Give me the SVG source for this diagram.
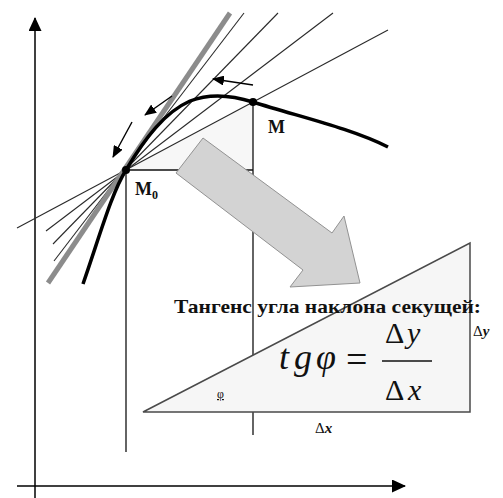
<svg xmlns="http://www.w3.org/2000/svg" width="503" height="498" viewBox="0 0 503 498">
<style>
.ax{stroke:#000;stroke-width:1.5;fill:none}
.sec{stroke:#2a2a2a;stroke-width:1.1;fill:none}
.vl{stroke:#111;stroke-width:1.3;fill:none}
.sm{stroke:#000;stroke-width:1.4;fill:none;marker-end:url(#ah)}
.b{font-weight:bold}
.it{font-style:italic}
</style>
<defs>
<marker id="ah" markerWidth="12" markerHeight="10" refX="11" refY="5" orient="auto" markerUnits="userSpaceOnUse"><path d="M0,0 L12,5 L0,10 Z" fill="#000"/></marker>
<marker id="axh" markerWidth="14" markerHeight="13" refX="13" refY="6.5" orient="auto" markerUnits="userSpaceOnUse"><path d="M0,0 L14,6.5 L0,13 Z" fill="#000"/></marker>
</defs>
<rect width="503" height="498" fill="#fff"/>
<g id="axes">
<line class="ax" x1="35" y1="498" x2="35" y2="18" marker-end="url(#axh)"/>
<line class="ax" x1="17" y1="486" x2="405" y2="486" marker-end="url(#axh)"/>
</g>
<g id="increment-triangle">
<polygon points="126,170 253,102 253,170" fill="#f7f7f7"/>
<line class="vl" x1="126" y1="170" x2="253" y2="170"/>
</g>
<g id="connectors">
<line class="sec" x1="17" y1="228" x2="388" y2="30"/>
<line class="sec" x1="46" y1="231" x2="333" y2="13"/>
<line class="sec" x1="53" y1="244" x2="278" y2="13"/>
<line class="sec" x1="54" y1="261" x2="244" y2="13"/>
<line x1="48" y1="283" x2="230" y2="13" stroke="#8c8c8c" stroke-width="5"/>
<line class="vl" x1="126" y1="170" x2="126" y2="452"/>
<line class="vl" x1="253" y1="102" x2="253" y2="435"/>
<path d="M83,284 C100,235 112,192 126,170 C145,138 165,112 190,101 C205,95 225,93 253,102 C300,117 350,128 388,147" fill="none" stroke="#000" stroke-width="3.5"/>
<line class="sm" x1="253" y1="85" x2="213" y2="79"/>
<line class="sm" x1="172" y1="96" x2="145" y2="115"/>
<line class="sm" x1="132" y1="122" x2="113" y2="157"/>
</g>
<g fill="#111" font-family="Liberation Serif, Times New Roman, serif">
<g id="M0">
<circle cx="126" cy="170" r="4" fill="#000"/>
<text class="b" x="135" y="195" font-size="18">M<tspan font-size="12" dy="4">0</tspan></text>
</g>
<g id="M">
<circle cx="253" cy="102" r="4" fill="#000"/>
<text class="b" x="268" y="133" font-size="18">M</text>
</g>
<g id="big-arrow">
<polygon points="203,138 176,173 303,270 290,287 360,283 344,216 332,233" fill="#d3d3d3" stroke="#929292" stroke-width="1"/>
</g>
<g id="tangent-triangle">
<polygon points="143,412 470,412 470,243" fill="#f6f6f6" stroke="#4a4a4a" stroke-width="1.5"/>
<text x="217" y="398" font-size="12" text-decoration="underline">φ</text>
<text x="473" y="336" font-size="15">Δ<tspan class="it b">y</tspan></text>
<text x="315" y="433" font-size="15">Δ<tspan class="it b">x</tspan></text>
</g>
<g id="heading">
<text class="b" x="174" y="313" font-size="19" textLength="307" lengthAdjust="spacingAndGlyphs">Тангенс угла наклона секущей:</text>
</g>
<g id="formula">
<text class="it" y="369" font-size="36"><tspan x="279">t</tspan><tspan x="294">g</tspan><tspan x="316">φ</tspan></text>
<text x="346" y="372" font-size="38">=</text>
<line x1="382" y1="361" x2="432" y2="361" stroke="#111" stroke-width="1.5"/>
<text y="343" font-size="30"><tspan x="385">Δ</tspan><tspan class="it" x="407">y</tspan></text>
<text y="400" font-size="30"><tspan x="385">Δ</tspan><tspan class="it" x="408">x</tspan></text>
</g>
</g>
</svg>
